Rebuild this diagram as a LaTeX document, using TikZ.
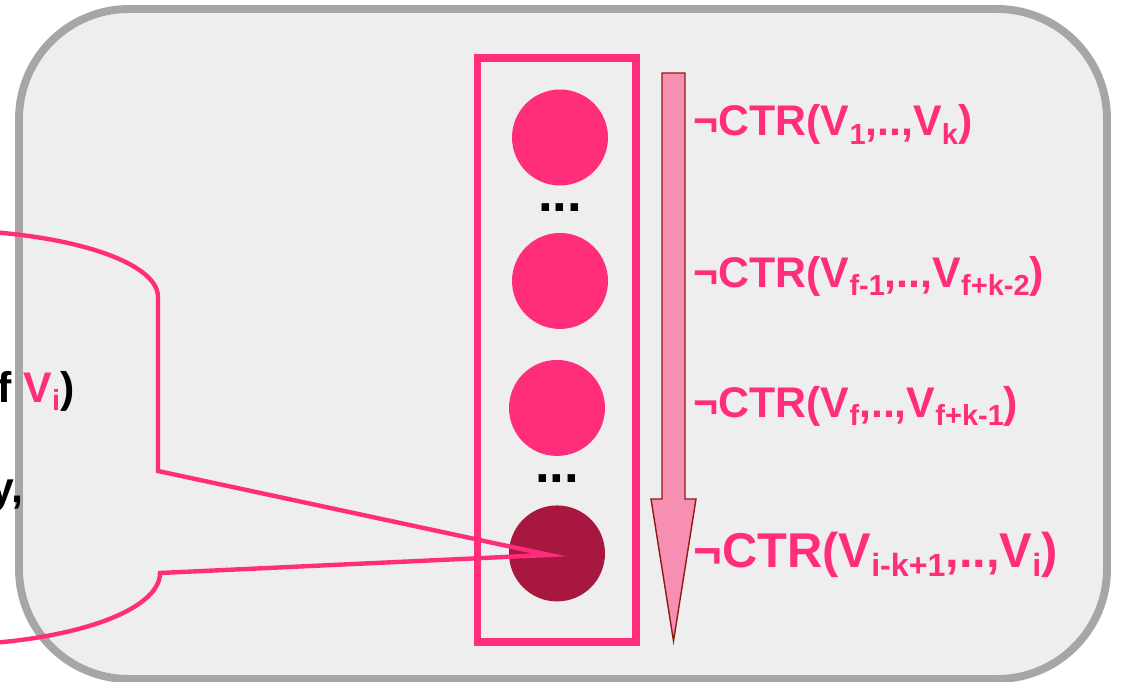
\documentclass[tikz,border=0pt]{standalone}
\usepackage{fontspec}
\setmainfont{Liberation Sans}
\usetikzlibrary{shapes,arrows,calc}

\definecolor{panelgray}{HTML}{EEEEEE}
\definecolor{panelrim}{HTML}{A6A6A6}
\definecolor{hotpink}{HTML}{FF2D7A}
\definecolor{wine}{HTML}{A8173F}
\definecolor{arrowpink}{HTML}{F78FB3}
\definecolor{arrowrim}{HTML}{8E1B10}

% lowered index, smaller size
\newcommand{\idx}[2][16.5]{\raisebox{-0.2em}{\fontsize{#1}{#1}\selectfont #2}}

\begin{document}
\begin{tikzpicture}[x=0.02cm, y=-0.02cm, semithick,
    font=\bfseries\fontsize{24.4}{28}\selectfont]
  \tikzstyle{panel} = [draw=panelrim, fill=panelgray, line width=4.5pt,
    rounded corners=2.2cm]
  \tikzstyle{column} = [rectangle, draw=hotpink, line width=4.5pt,
    minimum width=3.17cm, minimum height=11.69cm, inner sep=0pt]
  \tikzstyle{var} = [circle, fill=hotpink, minimum size=1.92cm, inner sep=0pt]
  \tikzstyle{dots} = [inner sep=0pt, font=\bfseries\fontsize{30}{30}\selectfont]
  \tikzstyle{ctr} = [anchor=base west, inner sep=0pt, text=hotpink]
  \tikzstyle{order} = [draw=arrowrim, fill=arrowpink, line width=0.8pt]
  \tikzstyle{callout} = [draw=hotpink, line width=2.5pt, line join=miter]

  \useasboundingbox (0,0) rectangle (1122,682);
  \clip (0,0) rectangle (1122,682);

  \path [panel] (19,9) rectangle (1107,679);

  % Place nodes
  \node [column] (col) at (556.75,349.75) {};
  \node [var] (v1) at (560,137.5) {};
  \node [dots, below of=v1, node distance=1.4cm] (dots1) {...};
  \node [var, below of=v1, node distance=2.87cm] (vf1) {};
  \node [var, below of=vf1, node distance=2.54cm, xshift=-0.06cm] (vf) {};
  \node [dots, below of=vf, node distance=1.42cm] (dots2) {...};
  \node [var, fill=wine, below of=vf, node distance=2.91cm] (vi) {};

  % sliding window arrow
  \path [order] (662,73) -- (685,73) -- (685,499) -- (696,499)
    -- (673.5,641) -- (651,499) -- (662,499) -- cycle;

  \node [ctr] (ctr1) at (693,136) {¬CTR(V\idx{1},..,V\idx{k})};
  \node [ctr] (ctr2) at (693,287) {¬CTR(V\idx{f-1},..,V\idx{f+k-2})};
  \node [ctr] (ctr3) at (693,417) {¬CTR(V\idx{f},..,V\idx{f+k-1})};
  \node [ctr, font=\bfseries\fontsize{27.8}{32}\selectfont] (ctr4) at (693,567)
    {¬CTR(V\idx[18.3]{i-k+1},..,V\idx[18.3]{i})};

  \node [anchor=base east, inner sep=0pt] (ofvi) at (75,402)
    {f \textcolor{hotpink}{V\idx{i}})};
  \node [anchor=base east, inner sep=0pt] (tail) at (24,502) {y,};

  % Draw edges
  \coordinate (tip) at ($(vi.center)+(-8,1.5)$);
  \draw [callout] (-62,230) .. controls (59,230) and (158,260) .. (158,297)
    -- (158,471) -- (tip) -- (160,573)
    .. controls (160,613) and (61,645) .. (-60,645);

\end{tikzpicture}
\end{document}
